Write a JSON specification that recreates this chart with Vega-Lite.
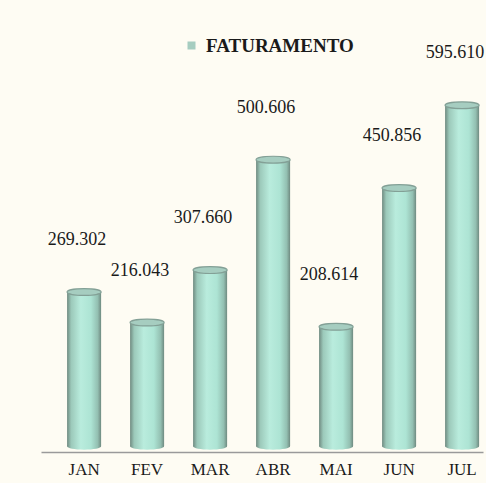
{
  "$schema": "https://vega.github.io/schema/vega-lite/v6.json",
  "width": 442,
  "height": 422,
  "autosize": "none",
  "padding": {"left": 41, "top": 30, "right": 3, "bottom": 31},
  "background": "#fefcf3",
  "config": {
    "view": {"stroke": null},
    "font": "Liberation Serif",
    "locale": {"number": {"decimal": ",", "thousands": ".", "grouping": [3], "currency": ["R$", ""]}}
  },
  "data": {
    "values": [
      {"mes": "JAN", "valor": 269302, "serie": "FATURAMENTO"},
      {"mes": "FEV", "valor": 216043, "serie": "FATURAMENTO"},
      {"mes": "MAR", "valor": 307660, "serie": "FATURAMENTO"},
      {"mes": "ABR", "valor": 500606, "serie": "FATURAMENTO"},
      {"mes": "MAI", "valor": 208614, "serie": "FATURAMENTO"},
      {"mes": "JUN", "valor": 450856, "serie": "FATURAMENTO"},
      {"mes": "JUL", "valor": 595610, "serie": "FATURAMENTO"}
    ]
  },
  "encoding": {
    "x": {
      "field": "mes",
      "type": "nominal",
      "sort": null,
      "scale": {"paddingInner": 0.46, "paddingOuter": 0.238, "align": 0.87},
      "axis": {
        "title": null,
        "labelAngle": 0,
        "ticks": false,
        "labelPadding": 9,
        "labelFontSize": 17,
        "labelFont": "Liberation Serif",
        "labelColor": "#1a1a1a",
        "domainColor": "#9a9a9a",
        "domainWidth": 1.5
      }
    },
    "y": {
      "field": "valor",
      "type": "quantitative",
      "scale": {"domain": [-10000, 727000], "nice": false, "zero": false},
      "axis": null
    }
  },
  "layer": [
    {
      "mark": {
        "type": "point",
        "shape": "M-1,0A1,0.2,0,1,0,1,0A1,0.2,0,1,0,-1,0Z",
        "size": 1156,
        "filled": true,
        "opacity": 1,
        "fill": {"gradient": "linear", "x1": 0, "x2": 1, "y1": 0, "y2": 0, "stops": [
          {"offset": 0, "color": "#6f8a80"},
          {"offset": 0.12, "color": "#9cc9ba"},
          {"offset": 0.4, "color": "#b9ecdd"},
          {"offset": 0.7, "color": "#ade4d4"},
          {"offset": 0.9, "color": "#93bfb1"},
          {"offset": 1, "color": "#6f8a80"}
        ]}
      },
      "encoding": {"y": {"datum": 0}}
    },
    {
      "mark": {
        "type": "bar",
        "fill": {"gradient": "linear", "x1": 0, "x2": 1, "y1": 0, "y2": 0, "stops": [
          {"offset": 0, "color": "#6f8a80"},
          {"offset": 0.12, "color": "#9cc9ba"},
          {"offset": 0.4, "color": "#b9ecdd"},
          {"offset": 0.7, "color": "#ade4d4"},
          {"offset": 0.9, "color": "#93bfb1"},
          {"offset": 1, "color": "#6f8a80"}
        ]}
      },
      "encoding": {"y2": {"datum": 0}}
    },
    {
      "mark": {
        "type": "point",
        "shape": "M-1,0A1,0.2,0,1,0,1,0A1,0.2,0,1,0,-1,0Z",
        "size": 1156,
        "filled": true,
        "opacity": 1,
        "stroke": "#83a096",
        "strokeWidth": 1.2
      },
      "encoding": {
        "color": {
          "field": "serie",
          "type": "nominal",
          "scale": {"range": ["#a6cdc0"]},
          "legend": {
            "title": null,
            "orient": "none",
            "legendX": 141,
            "legendY": 6,
            "symbolType": "square",
            "symbolSize": 64,
            "symbolStrokeWidth": 0,
            "symbolFillColor": "#b5e6d7",
            "labelFontSize": 19,
            "labelFontWeight": "bold",
            "labelFont": "Liberation Serif",
            "labelColor": "#1a1a1a",
            "labelOffset": 5,
            "padding": 0
          }
        }
      }
    },
    {
      "mark": {"type": "text", "dy": -52, "dx": -7, "fontSize": 18, "font": "Liberation Serif", "color": "#1a1a1a", "baseline": "middle"},
      "encoding": {"text": {"field": "valor", "type": "quantitative", "format": ",d"}}
    }
  ]
}
